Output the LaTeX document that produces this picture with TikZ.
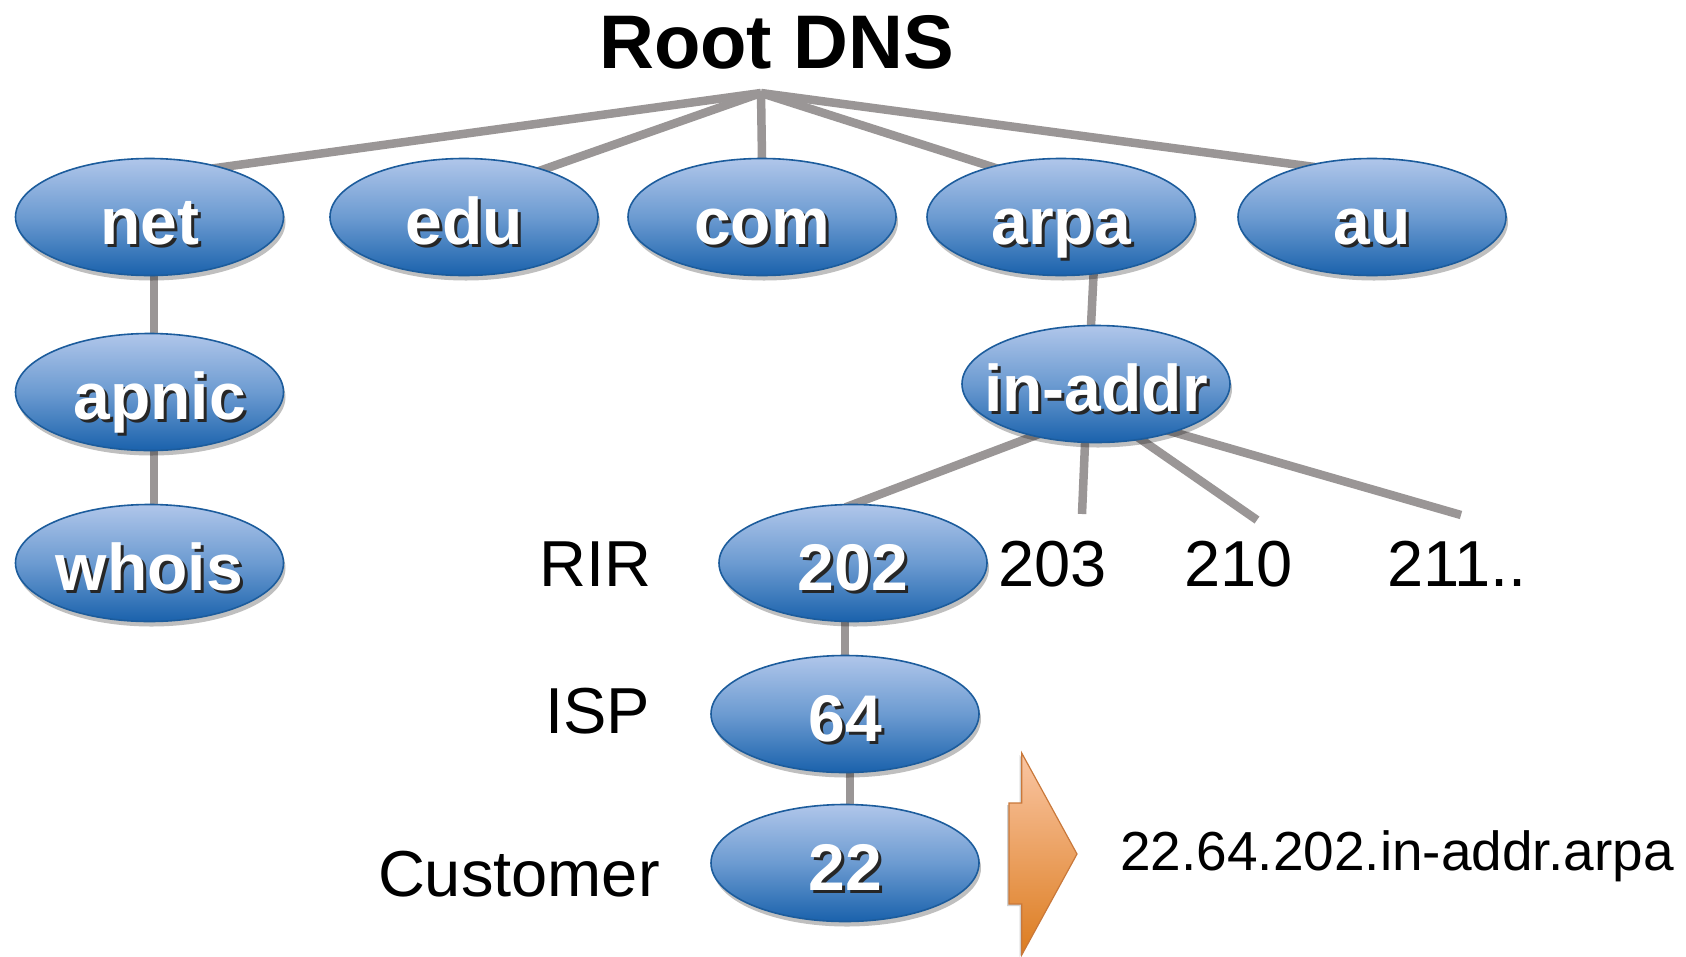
\documentclass[tikz,border=0pt]{standalone}
\usepackage{fontspec}
\setmainfont{Liberation Sans}
\usetikzlibrary{shapes.geometric,shadows,calc}
\pgfdeclarelayer{background}
\pgfsetlayers{background,main}
\definecolor{linegray}{HTML}{9A9696}
\definecolor{elltop}{HTML}{B0C6EA}
\definecolor{ellmid}{HTML}{6C9BD1}
\definecolor{ellbot}{HTML}{1A62AC}
\definecolor{ellborder}{HTML}{1C5C9C}
\definecolor{arrtop}{HTML}{FAC6A4}
\definecolor{arrbot}{HTML}{DC7C1F}
\definecolor{arrborder}{HTML}{C9783A}
\newcommand{\shadowtext}[1]{\makebox[0pt][l]{\hspace{3pt}\raisebox{-3pt}{\color{black!85}#1}}{\color{white}#1}}
\newcommand{\elltext}[1]{\makebox[0pt]{\shadowtext{#1}}}
\begin{document}
\begin{tikzpicture}[x=1pt,y=-1pt,
  dnsnode/.style={ellipse, draw=ellborder, line width=1.6pt,
    minimum width=268pt, minimum height=117pt, inner sep=0pt, outer sep=0pt,
    top color=elltop, bottom color=ellbot, middle color=ellmid,
    drop shadow={shadow xshift=2pt, shadow yshift=-5pt, opacity=0.25, fill=black},
    font=\fontsize{66pt}{66pt}\selectfont\bfseries, text height=54pt, text depth=0pt},
  conn/.style={draw=linegray, line width=8.5pt},
  lbl/.style={inner sep=0pt, font=\fontsize{65pt}{65pt}\selectfont}]
\useasboundingbox (0,0) rectangle (1686,956);

% title
\node[anchor=base, inner sep=0pt, font=\fontsize{76pt}{76pt}\selectfont\bfseries] (root) at (776.5,68) {Root DNS};
\coordinate (hub) at (761,93);

% top level
\node[dnsnode] (net)  at (149.5,217) {\elltext{net}};
\node[dnsnode] (edu)  at (464,217)   {\elltext{edu}};
\node[dnsnode] (com)  at (762,217)   {\elltext{com}};
\node[dnsnode] (arpa) at (1061,217)  {\elltext{arpa}};
\node[dnsnode] (au)   at (1372,217)  {\elltext{au}};

% left branch
\node[dnsnode] (apnic) at (149.5,392) {\elltext{\hspace{20pt}apnic}};
\node[dnsnode] (whois) at (149.5,563) {\elltext{whois}};

% reverse branch
\node[dnsnode] (inaddr) at (1096,384) {\elltext{in-addr}};
\node[dnsnode] (n202) at (853,563) {\elltext{202}};
\node[dnsnode] (n64)  at (845,714) {\elltext{64}};
\node[dnsnode] (n22)  at (845,863) {\elltext{22}};

\coordinate (ihub) at ($(inaddr.center)+(4,27)$);
\coordinate (s203) at (1086,420);
\coordinate (e203) at (1082,514);
\coordinate (e210) at (1257,520);
\coordinate (e211) at (1461,515);

% labels
\node[lbl, anchor=base east] (rir)  at (652,586) {RIR};
\node[lbl, anchor=base east] (isp)  at (650,733) {ISP};
\node[lbl, anchor=base east] (cust) at (660,896) {Customer};
\node[lbl, anchor=base west] (t203) at (998,586) {203};
\node[lbl, anchor=base west] (t210) at (1184,586) {210};
\node[lbl, anchor=base west] (t211) at (1387,586) {211..};
\node[inner sep=0pt, anchor=base west, font=\fontsize{55pt}{55pt}\selectfont] (addr) at (1120,870) {22.64.202.in-addr.arpa};

% arrow
\draw[draw=arrborder, line width=1.2pt, top color=arrtop, bottom color=arrbot,
      drop shadow={shadow xshift=-2pt, shadow yshift=-2pt, opacity=0.18, fill=black}]
  (1009,803) -- (1021.7,803) -- (1021.7,753) -- (1077,854) -- (1021.7,955)
  -- (1021.7,904) -- (1009,904) -- cycle;

\begin{pgfonlayer}{background}
  \fill[white] (0,0) rectangle (1686,956);
  \draw[conn, shorten >=-8pt] (hub) -- (net.35);
  \draw[conn, shorten >=-8pt] (hub) -- (edu.31);
  \draw[conn, shorten >=-8pt] (hub) -- (com.north);
  \draw[conn, shorten >=-8pt] (hub) -- (arpa.144);
  \draw[conn, shorten >=-8pt] (hub) -- (au.142);
  \draw[conn] ($(net.center)+(4.5,0)$) -- ($(apnic.center)+(4.5,0)$);
  \draw[conn] ($(apnic.center)+(4.5,0)$) -- ($(whois.center)+(4.5,0)$);
  \draw[conn] ($(inaddr.north)+(-6,10)$) -- ($(inaddr.north)+(-5,0)$) -- ++(3,-60);
  \draw[conn, shorten >=-8pt] (ihub) -- (n202.north);
  \draw[conn] (s203) -- (e203);
  \draw[conn] (ihub) -- (e210);
  \draw[conn] (ihub) -- (e211);
  \draw[conn] ($(n64.north)+(0,10)$) -- ($(n64.north)+(0,-60)$);
  \draw[conn] ($(n22.north)+(5,10)$) -- ($(n22.north)+(5,-60)$);
\end{pgfonlayer}
\end{tikzpicture}
\end{document}
